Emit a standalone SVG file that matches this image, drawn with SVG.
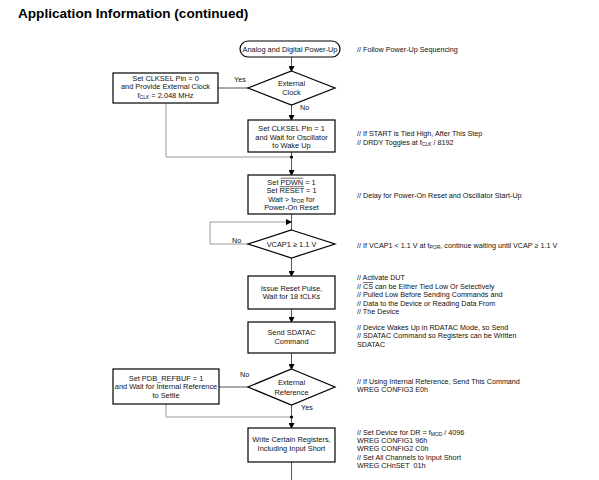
<svg xmlns="http://www.w3.org/2000/svg" width="599" height="480" viewBox="0 0 599 480">
<style>
.t{font-family:"Liberation Sans",Arial,sans-serif;font-size:7.4px;fill:#111;text-anchor:middle}
.c{font-family:"Liberation Sans",Arial,sans-serif;font-size:7.2px;fill:#111}
.title{font-family:"Liberation Sans",Arial,sans-serif;font-size:13.6px;font-weight:bold;fill:#000}
.box{fill:#fff;stroke:#000;stroke-width:1.2}
.ln{fill:none;stroke:#555;stroke-width:1}
.lt{fill:none;stroke:#999;stroke-width:1}
.ovl{stroke:#111;stroke-width:0.6}
.sub{font-size:5px}
</style>
<defs>
<marker id="ah" markerWidth="6" markerHeight="6" refX="5" refY="3" orient="auto" markerUnits="userSpaceOnUse">
<path d="M0,0 L6,3 L0,6 Z" fill="#000"/>
</marker>
</defs>
<rect width="599" height="480" fill="#fff"/>
<text class="title" x="18" y="18">Application Information (continued)</text>

<g id="connectors">
<line class="ln" x1="291.5" y1="57" x2="291.5" y2="71" marker-end="url(#ah)"/>
<line class="ln" x1="218" y1="88" x2="248" y2="88"/>
<polyline class="lt" points="166,103 166,157 291.5,157"/>
<line class="ln" x1="291.5" y1="105" x2="291.5" y2="120" marker-end="url(#ah)"/>
<line class="ln" x1="291.5" y1="152" x2="291.5" y2="175" marker-end="url(#ah)"/>
<circle cx="291.5" cy="157" r="1.6" fill="#000"/>
<line class="ln" x1="291.5" y1="214" x2="291.5" y2="230"/>
<polyline class="lt" points="248,244 210,244 210,222 291,222" marker-end="url(#ah)"/>
<line class="ln" x1="291.5" y1="258" x2="291.5" y2="276" marker-end="url(#ah)"/>
<line class="ln" x1="291.5" y1="309" x2="291.5" y2="322" marker-end="url(#ah)"/>
<line class="ln" x1="291.5" y1="353" x2="291.5" y2="369" marker-end="url(#ah)"/>
<line class="ln" x1="219" y1="387" x2="248" y2="387"/>
<polyline class="lt" points="166,404 166,417 291.5,417"/>
<line class="ln" x1="291.5" y1="405" x2="291.5" y2="428" marker-end="url(#ah)"/>
<circle cx="291.5" cy="417" r="1.6" fill="#000"/>
<line class="ln" x1="291.5" y1="462" x2="291.5" y2="480"/>
<text class="c" x="234" y="82">Yes</text>
<text class="c" x="300" y="110">No</text>
<text class="c" x="232" y="243">No</text>
<text class="c" x="240" y="377">No</text>
<text class="c" x="301" y="410">Yes</text>
</g>

<g id="start">
<rect class="box" x="240" y="41" width="100" height="16" rx="8"/>
<text class="t" x="290" y="51.5">Analog and Digital Power-Up</text>
</g>
<g id="ext-clock">
<polygon class="box" points="291.5,71 335,88 291.5,105 248,88"/>
<text class="t" x="291.5" y="85.5">External</text>
<text class="t" x="291.5" y="95">Clock</text>
</g>
<g id="clksel0">
<rect class="box" x="113" y="73" width="105" height="30"/>
<text class="t" x="165.5" y="80.5">Set CLKSEL Pin = 0</text>
<text class="t" x="165.5" y="89">and Provide External Clock</text>
<text class="t" x="165.5" y="97.5">f<tspan class="sub" dy="1.5">CLK</tspan><tspan dy="-1.5"> = 2.048 MHz</tspan></text>
</g>
<g id="clksel1">
<rect class="box" x="248" y="120" width="87" height="32"/>
<text class="t" x="291.5" y="131">Set CLKSEL Pin = 1</text>
<text class="t" x="291.5" y="139.5">and Wait for Oscillator</text>
<text class="t" x="291.5" y="148">to Wake Up</text>
</g>
<g id="pdwn">
<rect class="box" x="248" y="175" width="87" height="39"/>
<text class="t" x="291.5" y="184.5">Set PDWN = 1</text>
<line class="ovl" x1="280.5" y1="178.2" x2="303.1" y2="178.2"/>
<text class="t" x="291.5" y="193">Set RESET = 1</text>
<line class="ovl" x1="279.5" y1="186.7" x2="304.1" y2="186.7"/>
<text class="t" x="291.5" y="201.5">Wait &gt; t<tspan class="sub" dy="1">POR</tspan><tspan dy="-1"> for</tspan></text>
<text class="t" x="291.5" y="210">Power-On Reset</text>
</g>
<g id="vcap">
<polygon class="box" points="291.5,230 335,244 291.5,258 248,244"/>
<text class="t" x="291.5" y="246.5">VCAP1 ≥ 1.1 V</text>
</g>
<g id="reset-pulse">
<rect class="box" x="248" y="276" width="87" height="33"/>
<text class="t" x="291.5" y="290.5">Issue Reset Pulse,</text>
<text class="t" x="291.5" y="299">Wait for 18 tCLKs</text>
</g>
<g id="sdatac">
<rect class="box" x="248" y="322" width="87" height="31"/>
<text class="t" x="291.5" y="335">Send SDATAC</text>
<text class="t" x="291.5" y="344">Command</text>
</g>
<g id="ext-ref">
<polygon class="box" points="291.5,369 335,387 291.5,405 248,387"/>
<text class="t" x="291.5" y="385">External</text>
<text class="t" x="291.5" y="394.5">Reference</text>
</g>
<g id="pdb">
<rect class="box" x="113" y="369" width="106" height="35"/>
<text class="t" x="166" y="380.5">Set PDB_REFBUF = 1</text>
<text class="t" x="166" y="389">and Wait for Internal Reference</text>
<text class="t" x="166" y="397.5">to Settle</text>
</g>
<g id="write-regs">
<rect class="box" x="248" y="428" width="87" height="34"/>
<text class="t" x="291.5" y="442">Write Certain Registers,</text>
<text class="t" x="291.5" y="451">Including Input Short</text>
</g>

<g id="comments">
<text class="c" x="357" y="51.5">// Follow Power-Up Sequencing</text>
<text class="c" x="357" y="135.5">// If START is Tied High, After This Step</text>
<text class="c" x="357" y="144.5">// DRDY Toggles at f<tspan class="sub" dy="1">CLK</tspan><tspan dy="-1"> / 8192</tspan></text>
<text class="c" x="357" y="197.5">// Delay for Power-On Reset and Oscillator Start-Up</text>
<text class="c" x="357" y="247.5">// If VCAP1 &lt; 1.1 V at t<tspan class="sub" dy="1">POR</tspan><tspan dy="-1">, continue waiting until VCAP ≥ 1.1 V</tspan></text>
<text class="c" x="357" y="279.5">// Activate DUT</text>
<text class="c" x="357" y="288.5">// CS can be Either Tied Low Or Selectively</text>
<line class="ovl" x1="363" y1="282.5" x2="373" y2="282.5"/>
<text class="c" x="357" y="297">// Pulled Low Before Sending Commands and</text>
<text class="c" x="357" y="305.5">// Data to the Device or Reading Data From</text>
<text class="c" x="357" y="314">// The Device</text>
<text class="c" x="357" y="329.5">// Device Wakes Up in RDATAC Mode, so Send</text>
<text class="c" x="357" y="338">// SDATAC Command so Registers can be Written</text>
<text class="c" x="357" y="346.5">SDATAC</text>
<text class="c" x="357" y="383.5">// If Using Internal Reference, Send This Command</text>
<text class="c" x="357" y="392">WREG CONFIG3 E0h</text>
<text class="c" x="357" y="434.5">// Set Device for DR = f<tspan class="sub" dy="1">MOD</tspan><tspan dy="-1"> / 4096</tspan></text>
<text class="c" x="357" y="443">WREG CONFIG1 96h</text>
<text class="c" x="357" y="451">WREG CONFIG2 C0h</text>
<text class="c" x="357" y="459.5">// Set All Channels to Input Short</text>
<text class="c" x="357" y="468" xml:space="preserve">WREG CHnSET  01h</text>
</g>
</svg>
